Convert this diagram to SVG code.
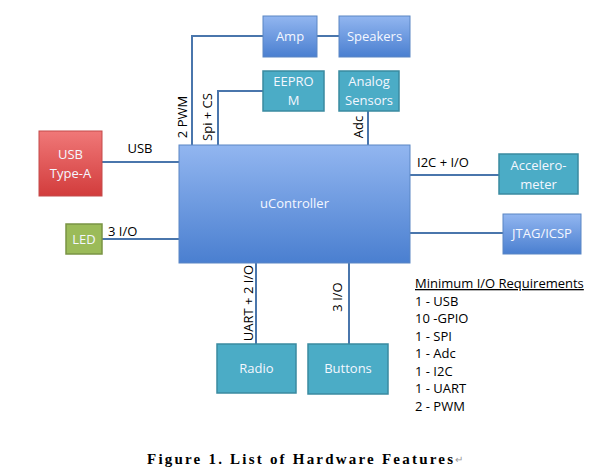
<svg xmlns="http://www.w3.org/2000/svg" width="599" height="468" viewBox="0 0 599 468">
<defs>
<linearGradient id="gBlue" x1="0" y1="0" x2="0" y2="1">
<stop offset="0" stop-color="#92b6f0"/>
<stop offset="1" stop-color="#4a7fd0"/>
</linearGradient>
<linearGradient id="gRed" x1="0" y1="0" x2="0" y2="1">
<stop offset="0" stop-color="#f07878"/>
<stop offset="1" stop-color="#d23c3c"/>
</linearGradient>
<style>
.blue{fill:url(#gBlue);stroke:#5a86c4;stroke-width:1}
.teal{fill:#4bacc6;stroke:#3a8aa0;stroke-width:1.5}
.red{fill:url(#gRed);stroke:#c44a4a;stroke-width:1}
.green{fill:#9bbb59;stroke:#7a9444;stroke-width:1.5}
.nt{font-family:"Open Sans","Liberation Sans",sans-serif;font-size:13px;fill:#f4f7ff;text-anchor:middle}
.lb{font-family:"Open Sans","Liberation Sans",sans-serif;font-size:13px;fill:#000}
.lr{font-family:"Open Sans","Liberation Sans",sans-serif;font-size:13px;fill:#000;text-anchor:middle}
.wire{fill:none;stroke:#4a76ac;stroke-width:2}
.cap{font-family:"Liberation Serif",serif;font-weight:bold;font-size:15px;fill:#000}
</style>
</defs>
<rect width="599" height="468" fill="#fff"/>
<g id="connectors">
<polyline class="wire" points="192,145 192,36 263,36"/>
<line class="wire" x1="317" y1="36" x2="339" y2="36"/>
<polyline class="wire" points="218,145 218,91 263,91"/>
<line class="wire" x1="368" y1="111" x2="368" y2="145"/>
<line class="wire" x1="102" y1="162" x2="179" y2="162"/>
<line class="wire" x1="102" y1="239" x2="179" y2="239"/>
<line class="wire" x1="410" y1="175" x2="499" y2="175"/>
<line class="wire" x1="410" y1="233" x2="503" y2="233"/>
<line class="wire" x1="256" y1="263" x2="256" y2="344"/>
<line class="wire" x1="349" y1="263" x2="349" y2="344"/>
<text class="lr" x="140" y="153">USB</text>
<text class="lb" x="108" y="236">3 I/O</text>
<text class="lb" x="417" y="167">I2C + I/O</text>
<text class="lr" transform="translate(187,117) rotate(-90)">2 PWM</text>
<text class="lr" transform="translate(212,117) rotate(-90)">Spi + CS</text>
<text class="lr" transform="translate(363,127) rotate(-90)">Adc</text>
<text class="lr" transform="translate(253,303) rotate(-90)">UART + 2 I/O</text>
<text class="lr" transform="translate(342,297) rotate(-90)">3 I/O</text>
</g>
<g id="amp"><rect class="blue" x="263" y="16" width="54" height="41"/><text class="nt" x="290" y="41">Amp</text></g>
<g id="speakers"><rect class="blue" x="339" y="16" width="71" height="41"/><text class="nt" x="374.5" y="41">Speakers</text></g>
<g id="eeprom"><rect class="teal" x="263" y="71" width="61" height="40"/><text class="nt" x="293.5" y="86">EEPRO</text><text class="nt" x="293.5" y="105">M</text></g>
<g id="analog"><rect class="teal" x="339" y="71" width="60" height="40"/><text class="nt" x="369" y="86">Analog</text><text class="nt" x="369" y="105">Sensors</text></g>
<g id="usb"><rect class="red" x="39" y="131" width="63" height="65"/><text class="nt" x="70.5" y="159">USB</text><text class="nt" x="70.5" y="178">Type-A</text></g>
<g id="ucontroller"><rect class="blue" x="179" y="145" width="231" height="118"/><text class="nt" x="294.5" y="208">uController</text></g>
<g id="led"><rect class="green" x="66" y="224" width="36" height="30"/><text class="nt" x="84" y="243.5">LED</text></g>
<g id="accelerometer"><rect class="teal" x="499" y="154" width="79" height="40"/><text class="nt" x="538.5" y="170">Accelero-</text><text class="nt" x="538.5" y="189">meter</text></g>
<g id="jtag"><rect class="blue" x="503" y="214" width="78" height="40"/><text class="nt" x="542" y="238">JTAG/ICSP</text></g>
<g id="radio"><rect class="teal" x="217" y="344" width="79" height="49"/><text class="nt" x="256.5" y="373">Radio</text></g>
<g id="buttons"><rect class="teal" x="308" y="344" width="80" height="50"/><text class="nt" x="348" y="373">Buttons</text></g>
<g id="requirements">
<text class="lb" x="415" y="288" text-decoration="underline">Minimum I/O Requirements</text>
<text class="lb" x="415" y="306">1 - USB</text>
<text class="lb" x="415" y="323">10 -GPIO</text>
<text class="lb" x="415" y="341">1 - SPI</text>
<text class="lb" x="415" y="358">1 - Adc</text>
<text class="lb" x="415" y="376">1 - I2C</text>
<text class="lb" x="415" y="393">1 - UART</text>
<text class="lb" x="415" y="411">2 - PWM</text>
</g>
<text class="cap" x="147" y="464" textLength="306" lengthAdjust="spacing">Figure 1. List of Hardware Features</text>
<text x="455" y="463" font-family="Liberation Sans,sans-serif" font-size="10px" fill="#999">↵</text>
</svg>
